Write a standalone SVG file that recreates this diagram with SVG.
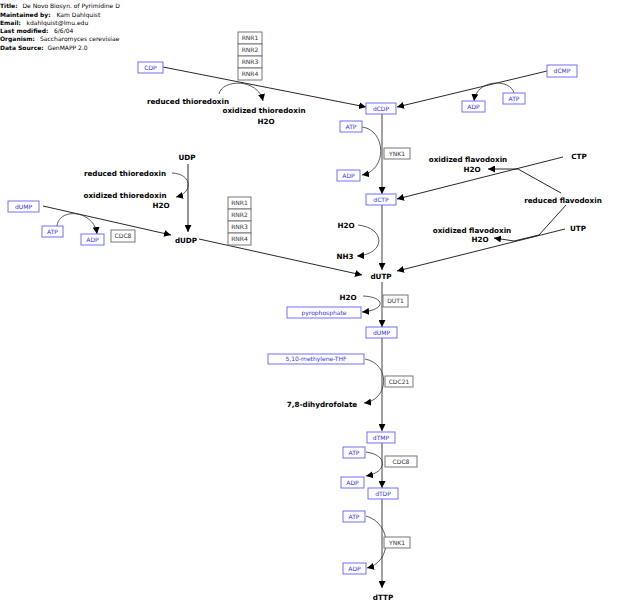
<svg xmlns="http://www.w3.org/2000/svg" width="617" height="611" viewBox="0 0 617 611">
<style>
text{font-family:"DejaVu Sans",Verdana,sans-serif}
.h{font-size:6px;fill:#000}
.hb{font-weight:bold}
.m{font-weight:bold;font-size:7.2px;fill:#000;text-anchor:middle}
.bx{fill:#fff;stroke:#7070ff;stroke-width:1}
.bt{font-size:6px;fill:#3333dd;text-anchor:middle}
.gx{fill:#fff;stroke:#777;stroke-width:1}
.gt{font-size:6px;fill:#333;text-anchor:middle}
.c{fill:none;stroke:#111;stroke-width:0.9}
.v{fill:none;stroke:#8a8a8a;stroke-width:1.6}
.a{fill:none;stroke:#333;stroke-width:0.8}
.c,.a,.v{marker-end:url(#ah)}
</style>
<defs>
<marker id="ah" viewBox="0 0 10 10" refX="10" refY="5" markerWidth="7" markerHeight="7" markerUnits="userSpaceOnUse" orient="auto"><path d="M0,0 L10,5 L0,10 z" fill="#000"/></marker>
</defs>
<g id="header" class="h">
<text y="8.3"><tspan class="hb">Title:</tspan><tspan x="22.5">De Novo Biosyn. of Pyrimidine D</tspan></text>
<text y="16.5"><tspan class="hb">Maintained by:</tspan><tspan x="56.5">Kam Dahlquist</tspan></text>
<text y="24.8"><tspan class="hb">Email:</tspan><tspan x="26.5">kdahlquist@lmu.edu</tspan></text>
<text y="33"><tspan class="hb">Last modified:</tspan><tspan x="54">6/6/04</tspan></text>
<text y="41.3"><tspan class="hb">Organism:</tspan><tspan x="40">Saccharomyces cerevisiae</tspan></text>
<text y="49.5"><tspan class="hb">Data Source:</tspan><tspan x="47.5">GenMAPP 2.0</tspan></text>
</g>
<g id="connectors">
<path class="c" d="M163,67 L366,107"/>
<path class="c" d="M547,71 L397,107"/>
<path class="a" d="M219,94 C222,79 258,78 263,101"/>
<path class="a" d="M514,93 C511,79 477,78 474,101"/>
<path class="v" d="M382,114 L382,194"/>
<path class="a" d="M362,127 C386,130 388,170 362,175"/>
<path class="c" d="M563,157 L397,199"/>
<path class="c" d="M561,193 L518,169 L488,169"/>
<path class="v" d="M382,205 L382,270"/>
<path class="a" d="M358,225 C386,228 386,254 357,256"/>
<path class="c" d="M565,229 L397,271"/>
<path class="c" d="M566,205 L539,235 L514,241 L494,238"/>
<path class="c" d="M188,164 L188,232"/>
<path class="a" d="M172,173 C193,174 193,193 176,197"/>
<path class="c" d="M43,206 L171,235"/>
<path class="a" d="M57,226 C59,207 94,210 97,234"/>
<path class="c" d="M199,239 L362,275"/>
<path class="v" d="M382,282 L382,327"/>
<path class="a" d="M363,296 C386,297 386,310 362,312"/>
<path class="v" d="M382,338 L382,431"/>
<path class="a" d="M365,359 C391,364 389,400 364,403"/>
<path class="v" d="M382,443 L382,488"/>
<path class="a" d="M366,452 C388,455 388,472 366,476"/>
<path class="v" d="M382,499 L382,588"/>
<path class="a" d="M366,516 C393,524 392,562 367,568"/>
</g>
<g id="CDP"><rect class="bx" x="138" y="62" width="25" height="11"/><text class="bt" x="150.5" y="69.7">CDP</text></g>
<g id="RNR1a"><rect class="gx" x="238" y="32" width="24" height="12"/><text class="gt" x="250" y="40.2">RNR1</text></g>
<g id="RNR2a"><rect class="gx" x="238" y="44" width="24" height="12"/><text class="gt" x="250" y="52.2">RNR2</text></g>
<g id="RNR3a"><rect class="gx" x="238" y="56" width="24" height="12"/><text class="gt" x="250" y="64.2">RNR3</text></g>
<g id="RNR4a"><rect class="gx" x="238" y="68" width="24" height="12"/><text class="gt" x="250" y="76.2">RNR4</text></g>
<g id="dCMP"><rect class="bx" x="547" y="65" width="30" height="12"/><text class="bt" x="562" y="73.2">dCMP</text></g>
<g id="ADP1"><rect class="bx" x="462" y="101" width="23" height="11"/><text class="bt" x="473.5" y="108.7">ADP</text></g>
<g id="ATP1"><rect class="bx" x="503" y="93" width="22" height="11"/><text class="bt" x="514" y="100.7">ATP</text></g>
<g id="redThio1"><text class="m" x="188" y="103.6">reduced thioredoxin</text></g>
<g id="oxThio1"><text class="m" x="264" y="112.6">oxidized thioredoxin</text></g>
<g id="H2O1"><text class="m" x="266" y="123.6">H2O</text></g>
<g id="dCDP"><rect class="bx" x="366" y="103" width="30" height="11"/><text class="bt" x="381" y="110.7">dCDP</text></g>
<g id="ATP2"><rect class="bx" x="340" y="121" width="22" height="11"/><text class="bt" x="351" y="128.7">ATP</text></g>
<g id="YNK1a"><rect class="gx" x="384" y="148" width="26" height="11"/><text class="gt" x="397" y="155.7">YNK1</text></g>
<g id="ADP2"><rect class="bx" x="337" y="170" width="23" height="11"/><text class="bt" x="348.5" y="177.7">ADP</text></g>
<g id="dCTP"><rect class="bx" x="366" y="194" width="30" height="11"/><text class="bt" x="381" y="201.7">dCTP</text></g>
<g id="CTP"><text class="m" x="579" y="158.6">CTP</text></g>
<g id="oxFlavo1"><text class="m" x="468" y="161.6">oxidized flavodoxin</text></g>
<g id="H2O2"><text class="m" x="472" y="171.6">H2O</text></g>
<g id="redFlavo"><text class="m" x="563" y="202.6">reduced flavodoxin</text></g>
<g id="UTP"><text class="m" x="578" y="230.6">UTP</text></g>
<g id="oxFlavo2"><text class="m" x="472" y="232.6">oxidized flavodoxin</text></g>
<g id="H2O3"><text class="m" x="480" y="241.6">H2O</text></g>
<g id="H2O4"><text class="m" x="346" y="227.6">H2O</text></g>
<g id="NH3"><text class="m" x="345" y="258.6">NH3</text></g>
<g id="dUTP"><text class="m" x="381" y="278.6">dUTP</text></g>
<g id="UDP"><text class="m" x="187" y="159.6">UDP</text></g>
<g id="redThio2"><text class="m" x="125" y="175.6">reduced thioredoxin</text></g>
<g id="oxThio2"><text class="m" x="125" y="197.6">oxidized thioredoxin</text></g>
<g id="H2O5"><text class="m" x="161" y="207.6">H2O</text></g>
<g id="dUMP1"><rect class="bx" x="8" y="201" width="31" height="11"/><text class="bt" x="23.5" y="208.7">dUMP</text></g>
<g id="ATP3"><rect class="bx" x="42" y="226" width="21" height="11"/><text class="bt" x="52.5" y="233.7">ATP</text></g>
<g id="ADP3"><rect class="bx" x="81" y="234" width="23" height="11"/><text class="bt" x="92.5" y="241.7">ADP</text></g>
<g id="CDC8a"><rect class="gx" x="111" y="230" width="24" height="12"/><text class="gt" x="123" y="238.2">CDC8</text></g>
<g id="dUDP"><text class="m" x="186" y="242.6">dUDP</text></g>
<g id="RNR1b"><rect class="gx" x="228" y="197" width="23" height="12"/><text class="gt" x="239.5" y="205.2">RNR1</text></g>
<g id="RNR2b"><rect class="gx" x="228" y="209" width="23" height="12"/><text class="gt" x="239.5" y="217.2">RNR2</text></g>
<g id="RNR3b"><rect class="gx" x="228" y="221" width="23" height="12"/><text class="gt" x="239.5" y="229.2">RNR3</text></g>
<g id="RNR4b"><rect class="gx" x="228" y="233" width="23" height="12"/><text class="gt" x="239.5" y="241.2">RNR4</text></g>
<g id="H2O6"><text class="m" x="348" y="299.6">H2O</text></g>
<g id="DUT1"><rect class="gx" x="383" y="295" width="25" height="12"/><text class="gt" x="395.5" y="303.2">DUT1</text></g>
<g id="pyrophosphate"><rect class="bx" x="287" y="307" width="74" height="11"/><text class="bt" x="324" y="314.7">pyrophosphate</text></g>
<g id="dUMP2"><rect class="bx" x="366" y="327" width="31" height="11"/><text class="bt" x="381.5" y="334.7">dUMP</text></g>
<g id="methyleneTHF"><rect class="bx" x="268" y="354" width="96" height="10"/><text class="bt" x="316" y="361.2">5,10-methylene-THF</text></g>
<g id="CDC21"><rect class="gx" x="385" y="376" width="28" height="11"/><text class="gt" x="399" y="383.7">CDC21</text></g>
<g id="dihydrofolate"><text class="m" x="322" y="406.6">7,8-dihydrofolate</text></g>
<g id="dTMP"><rect class="bx" x="367" y="432" width="28" height="11"/><text class="bt" x="381" y="439.7">dTMP</text></g>
<g id="ATP4"><rect class="bx" x="343" y="447" width="22" height="11"/><text class="bt" x="354" y="454.7">ATP</text></g>
<g id="CDC8b"><rect class="gx" x="385" y="456" width="32" height="11"/><text class="gt" x="401" y="463.7">CDC8</text></g>
<g id="ADP4"><rect class="bx" x="341" y="477" width="23" height="11"/><text class="bt" x="352.5" y="484.7">ADP</text></g>
<g id="dTDP"><rect class="bx" x="368" y="488" width="30" height="11"/><text class="bt" x="383" y="495.7">dTDP</text></g>
<g id="ATP5"><rect class="bx" x="343" y="511" width="22" height="11"/><text class="bt" x="354" y="518.7">ATP</text></g>
<g id="YNK1b"><rect class="gx" x="384" y="537" width="26" height="11"/><text class="gt" x="397" y="544.7">YNK1</text></g>
<g id="ADP5"><rect class="bx" x="343" y="563" width="23" height="11"/><text class="bt" x="354.5" y="570.7">ADP</text></g>
<g id="dTTP"><text class="m" x="383" y="599.6">dTTP</text></g>
</svg>
